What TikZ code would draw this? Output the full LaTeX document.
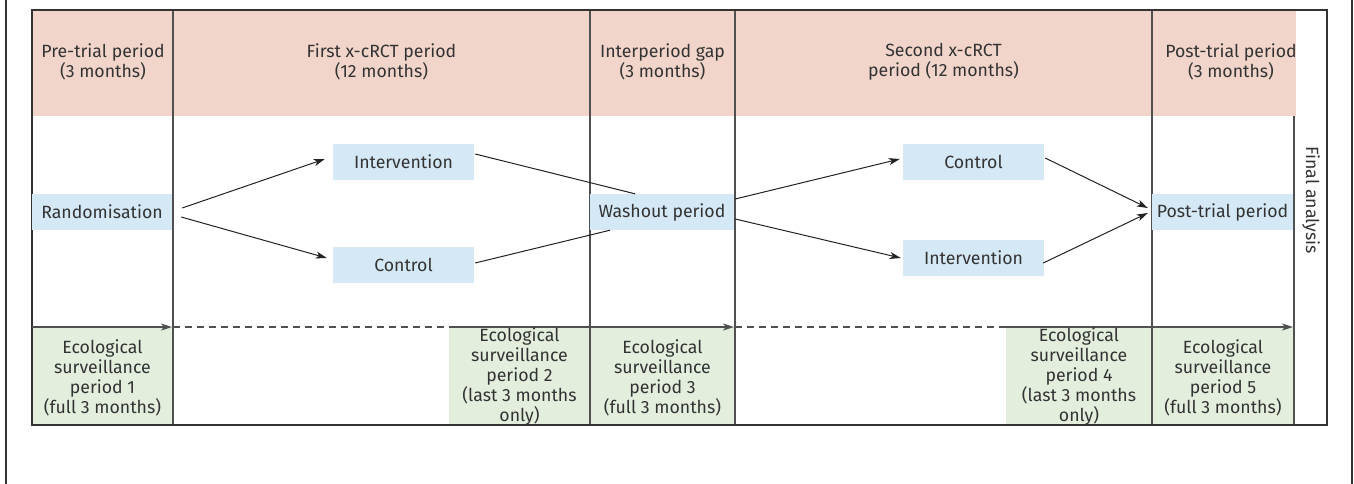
\documentclass[tikz,border=0pt]{standalone}
\usepackage{fontspec}
\setmainfont{Fira Sans}
\usetikzlibrary{arrows.meta,calc}
\definecolor{hdr}{HTML}{F2D5CA}
\definecolor{bluebox}{HTML}{D4E8F6}
\definecolor{greenbox}{HTML}{E3EEDD}
\definecolor{gridc}{HTML}{505050}
\definecolor{framec}{HTML}{333333}
\definecolor{txt}{HTML}{333333}
\definecolor{arrc}{HTML}{222222}
\tikzset{
  bbox/.style={fill=bluebox, inner sep=0pt, minimum height=36, text=txt},
  hdrtext/.style={align=center, text=txt, inner sep=0pt},
  greentext/.style={align=center, text=txt, inner sep=0pt},
  conn/.style={draw=arrc, line width=1pt},
  arr/.style={conn, -{Stealth[length=11pt,width=7pt,inset=3pt]}},
  tline/.style={draw=gridc, line width=1.8pt},
  tarr/.style={tline, -{Stealth[length=11pt,width=7pt,inset=3pt]}},
  tdash/.style={draw=gridc, line width=1.4pt, dash pattern=on 7pt off 5pt},
  gridline/.style={draw=gridc, line width=1.2pt},
}
\begin{document}
\begin{tikzpicture}[x=1pt,y=-1pt,font=\fontsize{17.7}{20}\selectfont]
\useasboundingbox (0,0) rectangle (1354,484);
% outer frame
\draw[framec, line width=1.2pt] (6,0) -- (6,484);
\draw[framec, line width=1.2pt] (1352,0) -- (1352,484);
% fills
\fill[hdr] (32,10) rectangle (1295.5,116);
\fill[greenbox] (32,327) rectangle (173,425);
\fill[greenbox] (449,327) rectangle (590,425);
\fill[greenbox] (590,327) rectangle (735,425);
\fill[greenbox] (1006,327) rectangle (1152,425);
\fill[greenbox] (1152,327) rectangle (1294,425);
% grid
\draw[gridline] (173,10) -- (173,425);
\draw[gridline] (590,10) -- (590,425);
\draw[gridline] (735,10) -- (735,425);
\draw[gridline] (1152,10) -- (1152,425);
\draw[gridline] (1294,116) -- (1294,425);
\draw[framec, line width=1.2pt] (32,10) rectangle (1327,425);
% header texts
\node[hdrtext] (h1) at (103,62) {Pre-trial period\\(3 months)};
\node[hdrtext] (h2) at (381.5,62) {First x-cRCT period\\(12 months)};
\node[hdrtext] (h3) at (662.5,62) {Interperiod gap\\(3 months)};
\node[hdrtext] (h4) at (943.5,62) {Second x-cRCT\\period (12 months)};
\node[hdrtext] (h5) at (1231,62) {Post-trial period\\(3 months)};
% boxes
\node[bbox, minimum width=140] (rand) at (102,212) {Randomisation};
\node[bbox, minimum width=141] (int1) at (403.5,162) {Intervention};
\node[bbox, minimum width=141] (ctl1) at (403.5,265) {Control};
\node[bbox, minimum width=144] (wash) at (662,212) {Washout period};
\node[bbox, minimum width=141] (ctl2) at (973.5,162) {Control};
\node[bbox, minimum width=141] (int2) at (973.5,258) {Intervention};
\node[bbox, minimum width=141] (post) at (1222.5,212) {Post-trial period};
\node[rotate=-90, text=txt, inner sep=0pt] (fin) at (1311,200) {Final analysis};
% connectors
\draw[arr] ($(rand.east)+(10,-4)$) -- ($(int1.west)+(-8,-3)$);
\draw[arr] ($(rand.east)+(9,5)$) -- ($(ctl1.west)+(-6,-7)$);
\draw[conn] ($(int1.east)+(1,-8)$) -- ($(wash.north)+(-27,0)$);
\draw[conn] ($(ctl1.east)+(1,-2)$) -- ($(wash.south)+(-52,0)$);
\draw[arr] ($(wash.east)+(1,-13)$) -- ($(ctl2.west)+(-3,-3)$);
\draw[arr] ($(wash.east)+(1,7)$) -- ($(int2.west)+(-2,0)$);
\draw[arr] ($(ctl2.east)+(1,-4)$) -- ($(post.west)+(-4,-4)$);
\draw[arr] ($(int2.east)+(-1,5)$) -- ($(post.west)+(-4,1)$);
% timeline
\coordinate (t0) at (32,327);
\coordinate (t1) at (173,327);
\coordinate (t2) at (449,327);
\coordinate (t3) at (735,327);
\coordinate (t4) at (1006,327);
\coordinate (t5) at (1294,327);
\draw[tarr] (t0) -- ([xshift=-1pt]t1);
\draw[tdash] (t1) -- (t2);
\draw[tarr] (t2) -- ([xshift=-1pt]t3);
\draw[tdash] (t3) -- (t4);
\draw[tarr] (t4) -- ([xshift=-1pt]t5);
% green texts
\node[greentext] (g1) at (102.5,378) {Ecological\\surveillance\\period 1\\(full 3 months)};
\node[greentext] (g2) at (519.5,376.5) {Ecological\\surveillance\\period 2\\(last 3 months\\only)};
\node[greentext] (g3) at (662.5,378) {Ecological\\surveillance\\period 3\\(full 3 months)};
\node[greentext] (g4) at (1079,376.5) {Ecological\\surveillance\\period 4\\(last 3 months\\only)};
\node[greentext] (g5) at (1223,378) {Ecological\\surveillance\\period 5\\(full 3 months)};
\end{tikzpicture}
\end{document}
